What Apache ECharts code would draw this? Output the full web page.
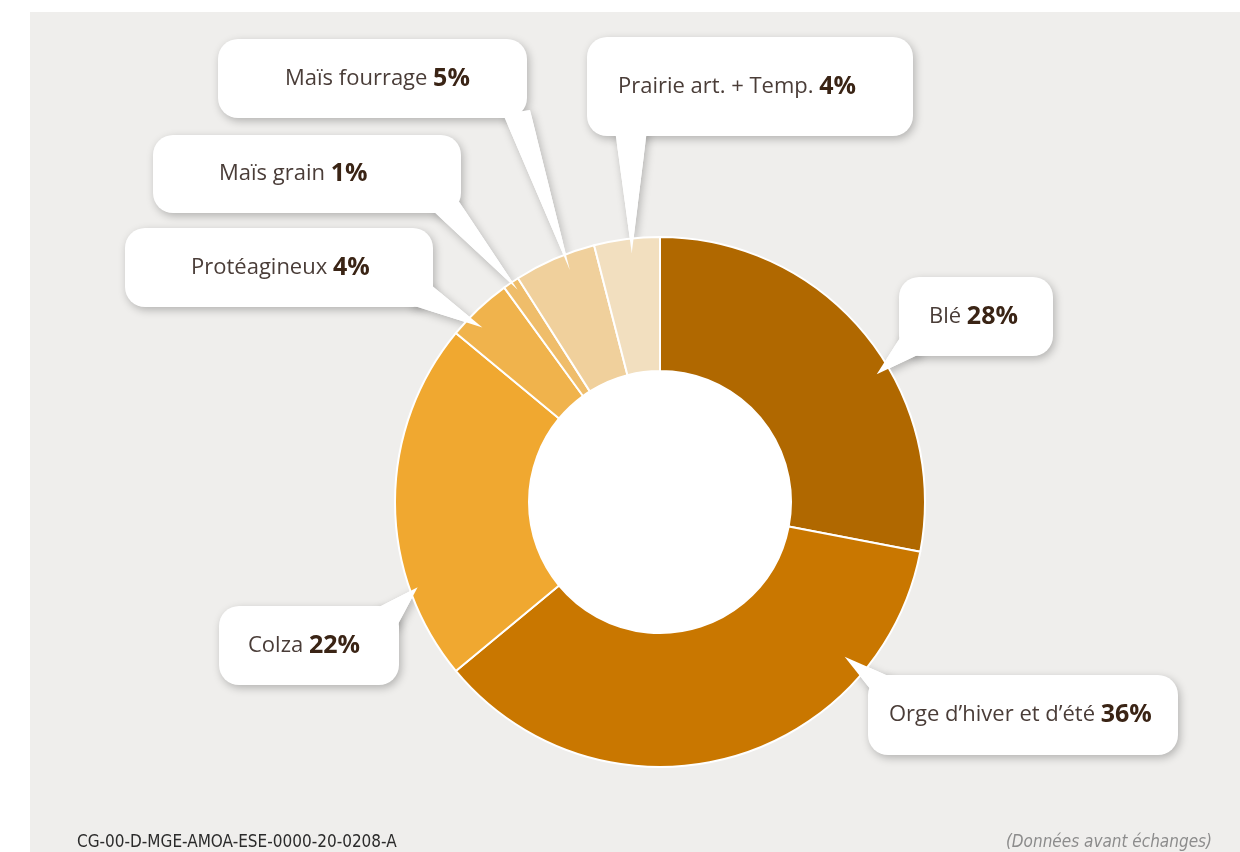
<!DOCTYPE html>
<html>
<head>
<meta charset="utf-8">
<script src="https://cdn.jsdelivr.net/npm/echarts@6/dist/echarts.min.js"></script>
<style>
html,body{margin:0;padding:0;background:#ffffff;}
#chart{width:1240px;height:852px;}
</style>
</head>
<body>
<div id="chart"></div>
<script>
// ---- data ----
const categories = ['Blé', 'Orge d\u2019hiver et d\u2019été', 'Colza', 'Protéagineux', 'Maïs grain', 'Maïs fourrage', 'Prairie art. + Temp.'];
const values = [28, 36, 22, 4, 1, 5, 4];
const colors = ['#b06800', '#c97700', '#f0a830', '#f0b34c', '#efbd6a', '#f0d09c', '#f2dfbf'];
const footerLeft = 'CG-00-D-MGE-AMOA-ESE-0000-20-0208-A';
const footerRight = '(Données avant échanges)';

// ---- layout (label boxes, callout tails) ----
const boxes = [
  {x: 899, y: 277, w: 154, h: 79, pl: 30},
  {x: 868, y: 675, w: 310, h: 80, pl: 21},
  {x: 219, y: 606, w: 180, h: 79, pl: 29},
  {x: 125, y: 228, w: 308, h: 79, pl: 66},
  {x: 153, y: 135, w: 308, h: 78, pl: 66},
  {x: 218, y: 39,  w: 309, h: 79, pl: 67},
  {x: 587, y: 37,  w: 326, h: 99, pl: 31}
];
// tail base points and tip position inside the slice (angular fraction f, radial fraction g)
const tails = [
  {base: [[922, 353], [903, 333]], f: 0.59, g: 0.90},
  {base: [[871, 690], [893, 678]], f: 0.225, g: 0.82},
  {base: [[375, 609], [396, 628]], f: 0.255, g: 0.94},
  {base: [[408, 304], [430, 284]], f: 0.34, g: 0.88},
  {base: [[432, 210], [458, 200]], f: 0.6, g: 0.93},
  {base: [[503, 114], [530, 110]], f: 0.62, g: 0.88},
  {base: [[615, 130], [647, 130]], f: 0.55, g: 0.89}
];

const chart = echarts.init(document.getElementById('chart'), null, {renderer: 'canvas'});

const LH = 30;
const seriesData = categories.map((name, i) => {
  const b = boxes[i];
  const pv = (b.h - LH) / 2;
  return {
    name: name,
    value: values[i],
    itemStyle: {color: colors[i]},
    label: {
      padding: [pv, 0, pv, b.pl],
      width: b.w - b.pl
    }
  };
});

const baseOption = {
  animation: false,
  graphic: [
    {type: 'rect', z: -5, silent: true, shape: {x: 30, y: 12, width: 1210, height: 840}, style: {fill: '#efeeec'}},
    {type: 'text', z: 5, silent: true, style: {text: footerLeft, x: 77, y: 843, textVerticalAlign: 'middle', fill: '#2b2b2b', font: "17px 'DejaVu Sans Condensed', 'Liberation Sans Narrow', 'Open Sans', sans-serif"}},
    {type: 'text', z: 5, silent: true, style: {text: footerRight, x: 1212, y: 843, textAlign: 'right', textVerticalAlign: 'middle', fill: '#8c8c8c', font: "italic 17px 'DejaVu Sans Condensed', 'Open Sans', sans-serif"}}
  ],
  series: [
    {
      type: 'pie',
      center: [660, 502],
      radius: [131, 265],
      startAngle: 90,
      clockwise: true,
      avoidLabelOverlap: false,
      silent: true,
      emphasis: {disabled: true},
      itemStyle: {borderColor: '#ffffff', borderWidth: 2},
      label: {
        show: true,
        position: 'outside',
        overflow: 'none',
        formatter: '{n|{b}\u00a0}{p|{c}%}',
        backgroundColor: '#ffffff',
        borderRadius: 20,
        shadowColor: 'rgba(0,0,0,0.25)',
        shadowBlur: 8,
        shadowOffsetX: 2,
        shadowOffsetY: 3,
        align: 'left',
        rich: {
          n: {fontFamily: 'Open Sans', fontSize: 22, color: '#4a3d38', lineHeight: LH},
          p: {fontFamily: 'Open Sans', fontWeight: 'bold', fontSize: 25, color: '#3a2415', lineHeight: LH}
        }
      },
      labelLine: {show: false},
      labelLayout: function (params) {
        const b = boxes[params.dataIndex];
        return {x: b.x, y: b.y, align: 'left', verticalAlign: 'top'};
      },
      data: seriesData
    },
    {
      type: 'pie',
      center: [660, 502],
      radius: [0, 131],
      silent: true,
      emphasis: {disabled: true},
      label: {show: false},
      labelLine: {show: false},
      itemStyle: {color: '#ffffff'},
      data: [{name: 'centre', value: 1}]
    }
  ]
};

chart.setOption(baseOption);

// callout tails computed from the pie's own layout
const data = chart.getModel().getSeriesByIndex(0).getData();
const tailGraphics = [];
tails.forEach((t, i) => {
  const L = data.getItemLayout(i);
  const a = L.startAngle + t.f * (L.endAngle - L.startAngle);
  const rr = L.r0 + t.g * (L.r - L.r0);
  const tip = [L.cx + rr * Math.cos(a), L.cy + rr * Math.sin(a)];
  const pts = [tip, t.base[0], t.base[1]];
  tailGraphics.push({type: 'polygon', z: 1, silent: true, shape: {points: pts},
    style: {fill: '#ffffff', shadowColor: 'rgba(0,0,0,0.25)', shadowBlur: 8, shadowOffsetX: 2, shadowOffsetY: 3}});
  tailGraphics.push({type: 'polygon', z: 3, silent: true, shape: {points: pts},
    style: {fill: '#ffffff'}});
});
chart.setOption({graphic: baseOption.graphic.concat(tailGraphics)});
</script>
</body>
</html>
